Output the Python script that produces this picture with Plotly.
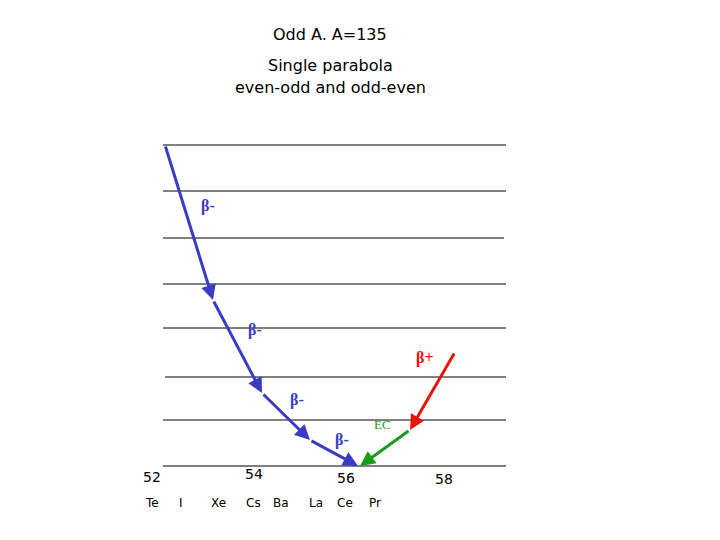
import plotly.graph_objects as go

# levels (y positions in slide pixels)
level_y = [145, 191, 238, 284, 328, 377, 420, 466]
level_x0 = [163, 163, 163, 163, 163, 165, 163, 163]
level_x1 = [506, 506, 504, 506, 506, 506, 506, 506]

beta_minus_x = [165, 213, 262, 310, 358]
beta_minus_y = [145, 300, 393, 440, 466]
bm_label_x = [208, 255, 297, 342]
bm_label_y = [206, 330, 400, 440]

beta_plus_x = [455, 410]
beta_plus_y = [352, 430]
ec_x = [410, 360]
ec_y = [430, 466]

mass_labels = ["52", "54", "56", "58"]
mass_x = [152, 254, 346, 444]
mass_y = [477, 474, 478, 479]

elements = ["Te", "I", "Xe", "Cs", "Ba", "La", "Ce", "Pr"]
elem_x = [152, 181, 218, 253, 281, 316, 345, 375]

fig = go.Figure()
for y, a, b in zip(level_y, level_x0, level_x1):
    fig.add_shape(type="line", x0=a, x1=b, y0=y, y1=y, line=dict(color="black", width=1))

def arrow(x0, y0, x1, y1, color):
    fig.add_annotation(x=x1, y=y1, ax=x0, ay=y0, xref="x", yref="y", axref="x", ayref="y",
                       showarrow=True, arrowhead=2, arrowsize=1, arrowwidth=3, arrowcolor=color, text="")

for i in range(len(beta_minus_x) - 1):
    arrow(beta_minus_x[i], beta_minus_y[i], beta_minus_x[i + 1], beta_minus_y[i + 1], "#3b3bc4")
arrow(beta_plus_x[0], beta_plus_y[0], beta_plus_x[1], beta_plus_y[1], "#e8150c")
arrow(ec_x[0], ec_y[0], ec_x[1], ec_y[1], "#1a9a1a")

serif = "Liberation Serif"
sans = "DejaVu Sans"
for x, y in zip(bm_label_x, bm_label_y):
    fig.add_annotation(x=x, y=y, text="<b>β-</b>", showarrow=False, xanchor="center",
                       font=dict(family=serif, size=16, color="#3b3bc4"))
fig.add_annotation(x=425, y=358, text="<b>β+</b>", showarrow=False,
                   font=dict(family=serif, size=16, color="#e8150c"))
fig.add_annotation(x=382, y=424, text="EC", showarrow=False,
                   font=dict(family=serif, size=13, color="#1a9a1a"))

for t, x, y in zip(mass_labels, mass_x, mass_y):
    fig.add_annotation(x=x, y=y, text=t, showarrow=False, font=dict(family=sans, size=14, color="black"))
for t, x in zip(elements, elem_x):
    fig.add_annotation(x=x, y=503, text=t, showarrow=False, font=dict(family=sans, size=12, color="black"))

titles = ["Odd A. A=135", "Single parabola", "even-odd and odd-even"]
title_y = [34, 65, 87]
for t, y in zip(titles, title_y):
    fig.add_annotation(x=330, y=y, text=t, showarrow=False, font=dict(family=sans, size=16, color="black"))

# page body adds an 8px offset, so shift the visible range to compensate
fig.update_xaxes(range=[8, 728], visible=False)
fig.update_yaxes(range=[548, 8], visible=False)
fig.update_layout(width=720, height=540, margin=dict(l=0, r=0, t=0, b=0),
                  plot_bgcolor="white", paper_bgcolor="white", showlegend=False)
fig.write_html("out.html")
